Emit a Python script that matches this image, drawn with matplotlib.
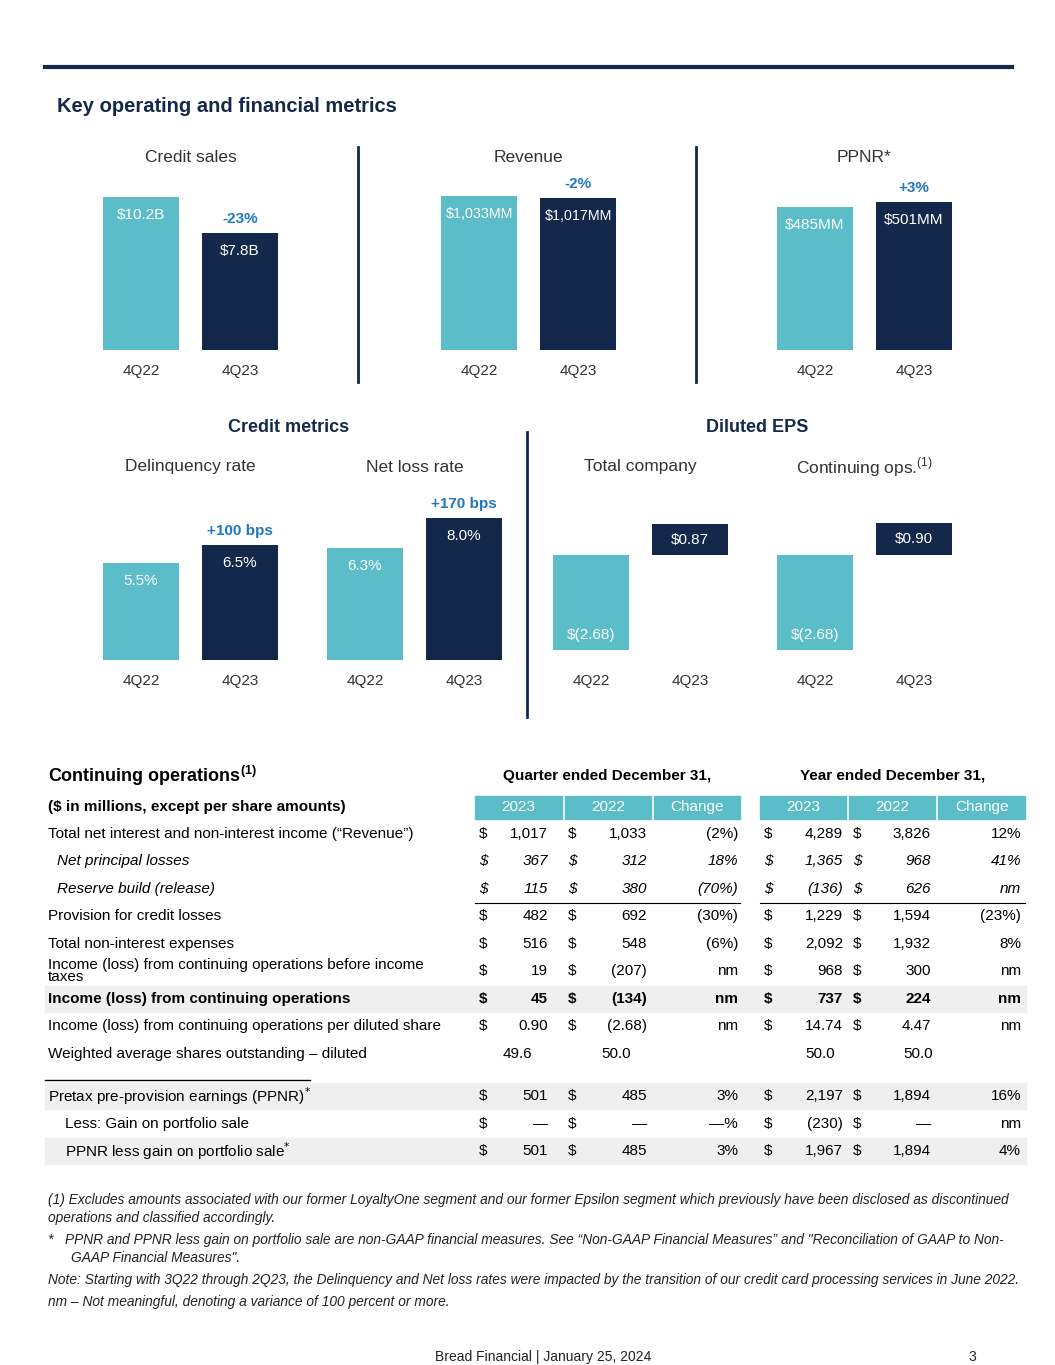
import matplotlib
matplotlib.use("Agg")
import matplotlib.pyplot as plt
from matplotlib.patches import Rectangle
from matplotlib.lines import Line2D

plt.rcParams['font.family'] = ['Liberation Sans', 'DejaVu Sans']

W, H = 1055, 1365
TEAL = "#5bbdc8"
NAVY = "#14284b"
BLUE = "#1f78c1"
GREY = "#333333"

periods = ["4Q22", "4Q23"]
credit_sales = [10.2, 7.8]
revenue = [1033, 1017]
ppnr = [485, 501]
delinquency = [5.5, 6.5]
net_loss = [6.3, 8.0]
eps_total = [-2.68, 0.87]
eps_cont = [-2.68, 0.90]

fig = plt.figure(figsize=(W / 100, H / 100), dpi=100)


def fx(x):
    return x / W


def fy(y):
    return 1 - y / H


def text(x, y, s, **kw):
    kw.setdefault("color", GREY)
    kw.setdefault("va", "center")
    fig.text(fx(x), fy(y), s, **kw)


def hline(x0, x1, y, lw=1, color="black"):
    fig.add_artist(Line2D([fx(x0), fx(x1)], [fy(y), fy(y)], lw=lw, color=color, transform=fig.transFigure))


def vline(x, y0, y1, lw=2, color=NAVY):
    fig.add_artist(Line2D([fx(x), fx(x)], [fy(y0), fy(y1)], lw=lw, color=color, transform=fig.transFigure))


def rect(x0, y0, x1, y1, color):
    fig.add_artist(Rectangle((fx(x0), fy(y1)), fx(x1 - x0), (y1 - y0) / H, color=color,
                             transform=fig.transFigure, zorder=0))


def bar_chart(c0, base, top_px, values, labels, change, title, title_y, lab_size=11):
    # c0: pixel centre of first bar; bars 99 px apart; top_px: pixel top of max bar
    left = c0 - 0.6 * 99
    ax_h = 200
    ax = fig.add_axes([fx(left), fy(base), fx(2.2 * 99), ax_h / H])
    vmax = max(values)
    ax.set_ylim(0, vmax * ax_h / (base - top_px))
    ax.set_xlim(-0.6, 1.6)
    ax.bar([0, 1], values, width=0.77, color=[TEAL, NAVY])
    for i, (v, lab) in enumerate(zip(values, labels)):
        ax.annotate(lab, (i, v), xytext=(0, -13), textcoords="offset points",
                    ha="center", va="center", color="white", fontsize=lab_size)
    ax.annotate(change, (1, values[1]), xytext=(0, 10), textcoords="offset points",
                ha="center", va="center", color=BLUE, fontsize=11, fontweight="bold")
    ax.axis("off")
    for i, p in enumerate(periods):
        text(c0 + 99 * i, base + 21, p, ha="center", fontsize=11)
    text(c0 + 49.5, title_y, title, ha="center", fontsize=12.5)
    return ax


def eps_chart(c0, zero, values, labels, title):
    left = c0 - 0.6 * 99
    scale = 35.5  # px per dollar
    ax = fig.add_axes([fx(left), fy(zero + 110), fx(2.2 * 99), 150 / H])
    ax.set_xlim(-0.6, 1.6)
    ax.set_ylim(-110 / scale, 40 / scale)
    ax.bar([0, 1], values, width=0.77, color=[TEAL, NAVY])
    ax.annotate(labels[0], (0, values[0]), xytext=(0, 11), textcoords="offset points",
                ha="center", va="center", color="white", fontsize=11)
    ax.annotate(labels[1], (1, values[1] / 2), ha="center", va="center", color="white", fontsize=11)
    ax.axis("off")
    for i, p in enumerate(periods):
        text(c0 + 99 * i, 681, p, ha="center", fontsize=11)
    text(c0 + 49.5, 467, title, ha="center", fontsize=12.5)


# header
hline(45, 1012, 67, lw=3, color=NAVY)
text(57, 107, "Key operating and financial metrics", fontsize=14.5, fontweight="bold", color=NAVY)

bar_chart(141, 350, 197, credit_sales, ["$10.2B", "$7.8B"], "-23%", "Credit sales", 157)
bar_chart(479, 350, 196, revenue, ["$1,033MM", "$1,017MM"], "-2%", "Revenue", 157, lab_size=10.3)
bar_chart(815, 350, 202, ppnr, ["$485MM", "$501MM"], "+3%", "PPNR*", 157)
vline(358, 147, 382)
vline(696, 147, 382)

text(289, 428, "Credit metrics", ha="center", fontsize=13, fontweight="bold", color=NAVY)
text(757, 428, "Diluted EPS", ha="center", fontsize=13, fontweight="bold", color=NAVY)
bar_chart(141, 660, 545, delinquency, ["5.5%", "6.5%"], "+100 bps", "Delinquency rate", 467)
bar_chart(365, 660, 518, net_loss, ["6.3%", "8.0%"], "+170 bps", "Net loss rate", 467)
vline(527, 432, 717)
eps_chart(591, 555, eps_total, ["$(2.68)", "$0.87"], "Total company")
eps_chart(815, 555, eps_cont, ["$(2.68)", "$0.90"], "Continuing ops.$^{\\mathregular{(1)}}$")

# ---- table ----
row_labels = [
    "Total net interest and non-interest income (\u201cRevenue\u201d)",
    "Net principal losses",
    "Reserve build (release)",
    "Provision for credit losses",
    "Total non-interest expenses",
    "Income (loss) from continuing operations before income\ntaxes",
    "Income (loss) from continuing operations",
    "Income (loss) from continuing operations per diluted share",
    "Weighted average shares outstanding \u2013 diluted",
    "Pretax pre-provision earnings (PPNR)$^{*}$",
    "Less: Gain on portfolio sale",
    "PPNR less gain on portfolio sale$^{*}$",
]
q2023 = ["1,017", "367", "115", "482", "516", "19", "45", "0.90", "49.6", "501", "\u2014", "501"]
q2022 = ["1,033", "312", "380", "692", "548", "(207)", "(134)", "(2.68)", "50.0", "485", "\u2014", "485"]
q_chg = ["(2%)", "18%", "(70%)", "(30%)", "(6%)", "nm", "nm", "nm", "", "3%", "\u2014%", "3%"]
y2023 = ["4,289", "1,365", "(136)", "1,229", "2,092", "968", "737", "14.74", "50.0", "2,197", "(230)", "1,967"]
y2022 = ["3,826", "968", "626", "1,594", "1,932", "300", "224", "4.47", "50.0", "1,894", "\u2014", "1,894"]
y_chg = ["12%", "41%", "nm", "(23%)", "8%", "nm", "nm", "nm", "", "16%", "nm", "4%"]

row_y = [834, 861, 889, 916, 944, 971, 999, 1026, 1054, 1096, 1124, 1151]
italic_rows = {1, 2}
bold_rows = {6}
shaded_rows = {6, 9, 11}
indent = {1: 57, 2: 57, 10: 65, 11: 65}
no_dollar = {8}

text(48, 776, "Continuing operations$^{\\mathregular{(1)}}$", fontsize=13, fontweight="bold", color="black")
text(607, 776, "Quarter ended December 31,", ha="center", fontsize=11, fontweight="bold", color="black")
text(893, 776, "Year ended December 31,", ha="center", fontsize=11, fontweight="bold", color="black")
text(48, 807, "($ in millions, except per share amounts)", fontsize=11, fontweight="bold", color="black")
heads = ["2023", "2022", "Change"]
for i, (a, b) in enumerate([(475, 562), (565, 651), (654, 740), (760, 846), (849, 935), (938, 1025)]):
    rect(a, 796, b, 819, TEAL)
    text((a + b) / 2, 807, heads[i % 3], ha="center", fontsize=11, color="white")

for r, lab in enumerate(row_labels):
    y = row_y[r]
    if r in shaded_rows:
        rect(45, y - 13, 1026, y + 13, "#efefef")
    style = "italic" if r in italic_rows else "normal"
    weight = "bold" if r in bold_rows else "normal"
    kw = dict(fontsize=11, color="black", fontstyle=style, fontweight=weight)
    text(indent.get(r, 48), y, lab, linespacing=0.9, **kw)
    if r not in no_dollar:
        for x in (483, 572, 768, 857):
            text(x, y, "$", ha="center", **kw)
        text(548, y, q2023[r], ha="right", **kw)
        text(647, y, q2022[r], ha="right", **kw)
        text(843, y, y2023[r], ha="right", **kw)
        text(931, y, y2022[r], ha="right", **kw)
    else:
        text(532, y, q2023[r], ha="right", **kw)
        text(631, y, q2022[r], ha="right", **kw)
        text(835, y, y2023[r], ha="right", **kw)
        text(933, y, y2022[r], ha="right", **kw)
    text(738, y, q_chg[r], ha="right", **kw)
    text(1021, y, y_chg[r], ha="right", **kw)

hline(475, 740, 903, lw=0.8)
hline(760, 1025, 903, lw=0.8)
hline(45, 310, 1080, lw=1)

notes = [
    (48, 1200, "(1) Excludes amounts associated with our former LoyaltyOne segment and our former Epsilon segment which previously have been disclosed as discontinued"),
    (48, 1218, "operations and classified accordingly."),
    (48, 1240, "*   PPNR and PPNR less gain on portfolio sale are non-GAAP financial measures. See \u201cNon-GAAP Financial Measures\u201d and \"Reconciliation of GAAP to Non-"),
    (71, 1258, "GAAP Financial Measures\"."),
    (48, 1280, "Note: Starting with 3Q22 through 2Q23, the Delinquency and Net loss rates were impacted by the transition of our credit card processing services in June 2022."),
    (48, 1302, "nm \u2013 Not meaningful, denoting a variance of 100 percent or more."),
]
for x, y, s in notes:
    text(x, y, s, fontsize=9.9, fontstyle="italic", color="#222222")

text(543, 1357, "Bread Financial | January 25, 2024", ha="center", fontsize=10, color="#222222")
text(972, 1357, "3", ha="center", fontsize=10, color="#222222")

fig.savefig("out.png", dpi=100)
